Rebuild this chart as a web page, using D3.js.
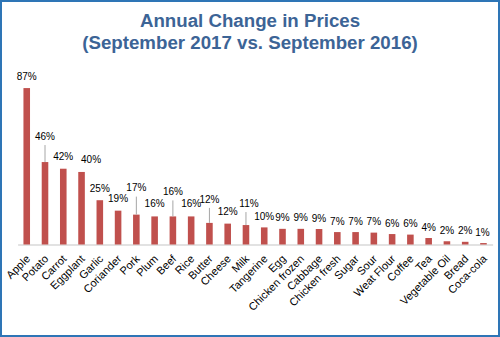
<!DOCTYPE html>
<html>
<head>
<meta charset="utf-8">
<script src="https://cdn.jsdelivr.net/npm/d3@7"></script>
<style>
  html, body { margin: 0; padding: 0; background: #fff; }
  svg { display: block; }
  text { font-family: Arial, "Liberation Sans", sans-serif; }
</style>
</head>
<body>
<svg id="chart" width="500" height="337"></svg>
<script>
// ---- data ----
const titleLines = ["Annual Change in Prices", "(September 2017 vs. September 2016)"];
const categories = ["Apple", "Potato", "Carrot", "Eggplant", "Garlic", "Coriander", "Pork", "Plum", "Beef", "Rice",
  "Butter", "Cheese", "Milk", "Tangerine", "Egg", "Chicken frozen", "Cabbage", "Chicken fresh", "Sugar", "Sour",
  "Weat Flour", "Coffee", "Tea", "Vegetable Oil", "Bread", "Coca-cola"];
const values = [86.9, 45.8, 42.1, 40.3, 24.6, 18.8, 16.6, 15.6, 15.6, 15.6,
  12.0, 11.6, 10.8, 9.5, 8.7, 8.7, 8.6, 6.9, 6.9, 6.6,
  5.8, 5.5, 3.6, 1.8, 1.5, 0.8];

// ---- label layout (lift of label centre above bar top, horizontal shift) ----
const labelLift = [12, 26, 12, 13, 12, 12, 27, 13, 25, 13,
  24, 12, 22, 11, 11, 11, 11, 11, 11, 11,
  11, 11, 11, 11, 11, 11];
const labelShift = [0, 0, 0, 9.5, 0, 0, 0, 0, 0, 0,
  0, 0, 3, 0, 0, 0, 0, 0, 0, 0,
  0, 0, 0, 0, 0, -1];

const svg = d3.select("#chart");
const W = 500, H = 337;

svg.append("rect").attr("x", 1).attr("y", 1).attr("width", W - 2).attr("height", H - 2)
  .attr("fill", "#fff").attr("stroke", "#2E75B6").attr("stroke-width", 2);

svg.append("text")
  .attr("text-anchor", "middle")
  .attr("fill", "#3C6496")
  .attr("font-weight", "bold")
  .attr("font-size", "18.7px")
  .selectAll("tspan").data(titleLines).join("tspan")
  .attr("x", 250).attr("y", (d, i) => 27 + i * 22)
  .text(d => d);

const x = d3.scaleBand().domain(categories).range([17.6, 492.6]).paddingInner(0.64).paddingOuter(0.32);
const y = d3.scaleLinear().domain([0, 100]).range([244.5, 64.5]);

const data = categories.map((c, i) => ({ c, v: values[i], lift: labelLift[i], dx: labelShift[i] }));

// axis line
const xAxis = svg.append("g").attr("transform", `translate(0,${y(0)})`)
  .call(d3.axisBottom(x).tickSize(0).tickFormat(""));
xAxis.select(".domain").attr("stroke", "#D9D9D9").attr("stroke-width", 1.5);

// bars
svg.append("g").selectAll("rect").data(data).join("rect")
  .attr("x", d => x(d.c)).attr("width", x.bandwidth())
  .attr("y", d => y(d.v)).attr("height", d => y(0) - y(d.v))
  .attr("fill", "#C0504D");

// leader lines
svg.append("g").selectAll("line").data(data.filter(d => d.lift > 15)).join("line")
  .attr("x1", d => x(d.c) + x.bandwidth() / 2).attr("x2", d => x(d.c) + x.bandwidth() / 2)
  .attr("y1", d => y(d.v) - d.lift + 9).attr("y2", d => y(d.v))
  .attr("stroke", "#A6A6A6").attr("stroke-width", 1);

// value labels
const fmt = d3.format(".0f");
svg.append("g").selectAll("text").data(data).join("text")
  .attr("x", d => x(d.c) + x.bandwidth() / 2 + d.dx)
  .attr("y", d => y(d.v) - d.lift + 3.6)
  .attr("text-anchor", "middle")
  .attr("font-size", "10px")
  .attr("fill", "#000")
  .text(d => fmt(d.v) + "%");

// category labels
svg.append("g").selectAll("text").data(data).join("text")
  .attr("transform", d => `translate(${x(d.c) + x.bandwidth() / 2 + 4},${y(0) + 15}) rotate(-45)`)
  .attr("text-anchor", "end")
  .attr("font-size", "11px")
  .attr("fill", "#000")
  .text(d => d.c);
</script>
</body>
</html>
